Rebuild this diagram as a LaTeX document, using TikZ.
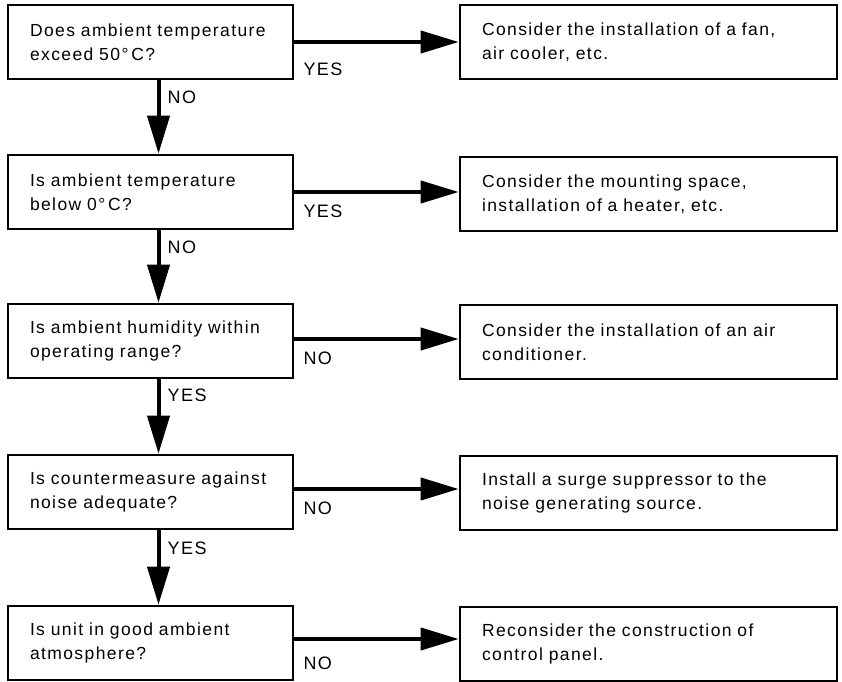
\documentclass[tikz,border=0pt]{standalone}
\usepackage{fontspec}
\setmainfont[LetterSpace=8]{Liberation Sans}
\usetikzlibrary{arrows.meta}

\begin{document}
\begin{tikzpicture}[x=1pt, y=1pt,
  question/.style={draw=black, line width=2.6pt, minimum width=285pt, minimum height=74pt, text width=241pt, inner xsep=22pt, inner ysep=0pt, align=left, font=\fontsize{17.5}{24}\selectfont},
  action/.style={question, minimum width=377pt, text width=333pt},
  flow/.style={line width=4pt, -{Triangle[length=38pt, width=22pt]}},
  answer/.style={anchor=north west, inner sep=0pt, font=\fontsize{18}{20}\selectfont}]
  \useasboundingbox (0,0) rectangle (842,681);
  \node[question] (q1) at (150.5,639) {Does ambient temperature\\exceed 50°\,C?};
  \node[question] (q2) at (150.5,489) {Is ambient temperature\\below 0°\,C?};
  \node[question] (q3) at (150.5,340) {Is ambient humidity within\\operating range?};
  \node[question] (q4) at (150.5,189) {Is countermeasure against\\noise adequate?};
  \node[question] (q5) at (150.5,38) {Is unit in good ambient\\atmosphere?};
  \node[action] (a1) at (648.5,639) {Consider the installation of a fan,\\air cooler, etc.};
  \node[action] (a2) at (648.5,487) {Consider the mounting space,\\installation of a heater, etc.};
  \node[action] (a3) at (648.5,339) {Consider the installation of an air\\conditioner.};
  \node[action] (a4) at (648.5,188) {Install a surge suppressor to the\\noise generating source.};
  \node[action] (a5) at (648.5,37) {Reconsider the construction of\\control panel.};
  \draw[flow] (q1.east) -- (q1.east -| a1.west);
  \draw[flow] (q2.east) -- (q2.east -| a2.west);
  \draw[flow] ([yshift=2pt]q3.east) -- ([yshift=2pt]q3.east -| a3.west);
  \draw[flow] ([yshift=3pt]q4.east) -- ([yshift=3pt]q4.east -| a4.west);
  \draw[flow] ([yshift=4pt]q5.east) -- ([yshift=4pt]q5.east -| a5.west);
  \draw[flow] ([xshift=8pt]q1.south) -- ([xshift=8pt]q2.north);
  \draw[flow] ([xshift=8pt]q2.south) -- ([xshift=8pt]q3.north);
  \draw[flow] ([xshift=8pt]q3.south) -- ([xshift=8pt]q4.north);
  \draw[flow] ([xshift=8pt]q4.south) -- ([xshift=8pt]q5.north);
  \node[answer] (y1) at ([xshift=9pt,yshift=-21pt]q1.east) {YES};
  \node[answer] (y2) at ([xshift=9pt,yshift=-13pt]q2.east) {YES};
  \node[answer] (n3) at ([xshift=9pt,yshift=-11pt]q3.east) {NO};
  \node[answer] (n4) at ([xshift=9pt,yshift=-10pt]q4.east) {NO};
  \node[answer] (n5) at ([xshift=9pt,yshift=-14pt]q5.east) {NO};
  \node[answer] (n1) at ([xshift=17pt,yshift=-10pt]q1.south) {NO};
  \node[answer] (n2) at ([xshift=17pt,yshift=-10pt]q2.south) {NO};
  \node[answer] (y3) at ([xshift=17pt,yshift=-9pt]q3.south) {YES};
  \node[answer] (y4) at ([xshift=17pt,yshift=-11pt]q4.south) {YES};
\end{tikzpicture}
\end{document}
